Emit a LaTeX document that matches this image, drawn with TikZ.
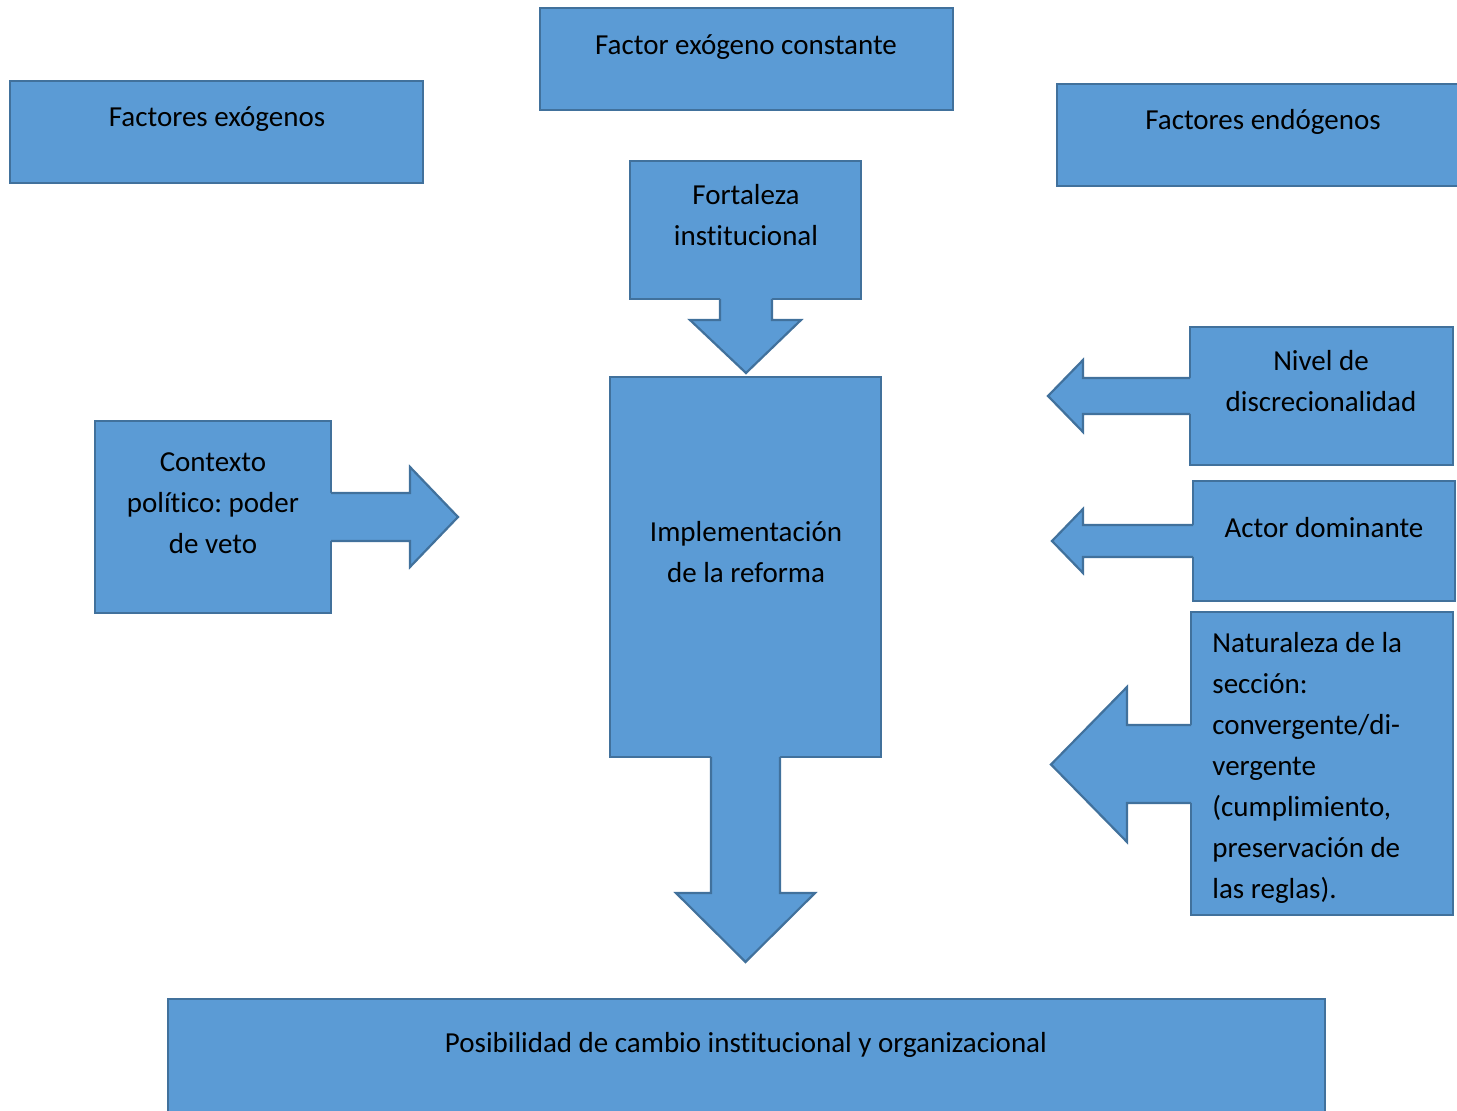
\documentclass[tikz,border=0pt]{standalone}
\usepackage{fontspec}
\setmainfont{Carlito}[Ligatures=NoCommon]
\usepackage{tikz}
\frenchspacing
\definecolor{azul}{HTML}{5B9BD5}
\definecolor{borde}{HTML}{41719C}
\tikzset{
  caja/.style={fill=azul, draw=borde, line width=1.1pt},
  flecha/.style={draw=borde, line width=1.1pt, line join=miter},
  texto/.style={font=\fontsize{14.5}{20.5}\selectfont, align=center, inner sep=0pt}
}

\begin{document}
\begin{tikzpicture}[x=0.5pt,y=-0.5pt]
\useasboundingbox (0,0) rectangle (1457,1111);
% cajas
\draw[caja] (540,8) rectangle (953,110);
\draw[caja] (10,81) rectangle (423,183);
\draw[caja] (1057,84) rectangle (1462,186);
\draw[caja] (630,161) rectangle (861,299);
\draw[caja] (610,377) rectangle (881,757);
\draw[caja] (95,421) rectangle (331,613);
\draw[caja] (1190,327) rectangle (1453,465);
\draw[caja] (1193,481) rectangle (1455,601);
\draw[caja] (1191,612) rectangle (1453,915);
\draw[caja] (168,999) rectangle (1325,1116);
% flechas hacia abajo
\foreach \yb/\l/\r/\yn/\hl/\hr/\yt in {299/720/772/320/690/801/373, 757/711/780/893/676/815/962}{
  \fill[azul] (\l,\yb-1.7) -- (\l,\yn) -- (\hl,\yn) -- ({(\l+\r)/2},\yt) -- (\hr,\yn) -- (\r,\yn) -- (\r,\yb-1.7) -- cycle;
  \draw[flecha] (\l,\yb) -- (\l,\yn) -- (\hl,\yn) -- ({(\l+\r)/2},\yt) -- (\hr,\yn) -- (\r,\yn) -- (\r,\yb);
}
% flechas hacia la izquierda
\foreach \xb/\st/\sb/\xn/\ht/\hb/\xt in {1190/378/414/1083/360/432/1048, 1193/525/557/1083/509/573/1052, 1191/725/803/1127/687/842/1051}{
  \fill[azul] (\xb+1.7,\st) -- (\xn,\st) -- (\xn,\ht) -- (\xt,{(\ht+\hb)/2}) -- (\xn,\hb) -- (\xn,\sb) -- (\xb+1.7,\sb) -- cycle;
  \draw[flecha] (\xb,\st) -- (\xn,\st) -- (\xn,\ht) -- (\xt,{(\ht+\hb)/2}) -- (\xn,\hb) -- (\xn,\sb) -- (\xb,\sb);
}
% flecha hacia la derecha
\fill[azul] (329.3,493) -- (410,493) -- (410,467) -- (458,517) -- (410,567) -- (410,541) -- (329.3,541) -- cycle;
\draw[flecha] (331,493) -- (410,493) -- (410,467) -- (458,517) -- (410,567) -- (410,541) -- (331,541);
% textos
\node[texto] (tconst) at (746,47) {Factor exógeno constante};
\node[texto] (texo) at (217,119) {Factores exógenos};
\node[texto] (tendo) at (1263,122) {Factores endógenos};
\node[texto] (tfort) at (746,215) {Fortaleza\\institucional};
\node[texto] (timpl) at (746,552) {Implementación\\de la reforma};
\node[texto] (tcont) at (213,503) {Contexto\\político: poder\\de veto};
\node[texto] (tnivel) at (1321,381) {Nivel de\\discrecionalidad};
\node[texto] (tactor) at (1324,528) {Actor dominante};
\node[texto, anchor=west, align=left] (tnat) at (1212,768) {Naturaleza de la\\sección:\\convergente/di-\\vergente\\(cumplimiento,\\preservación de\\las reglas).};
\node[texto] (tposib) at (746,1045) {Posibilidad de cambio institucional y organizacional};
\end{tikzpicture}
\end{document}
